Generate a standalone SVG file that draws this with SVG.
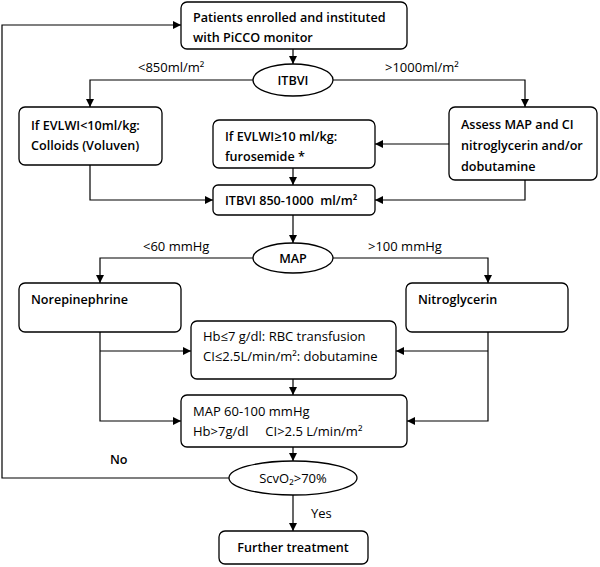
<svg xmlns="http://www.w3.org/2000/svg" width="600" height="567" viewBox="0 0 600 567">
<defs>
<marker id="ah" viewBox="0 0 10 10" refX="10" refY="5" markerWidth="8" markerHeight="8" markerUnits="userSpaceOnUse" orient="auto">
<path d="M0,0 L10,5 L0,10 z" fill="#000"/>
</marker>
<style>
.n{fill:#fff;stroke:#000;stroke-width:1.3}
.t{font-family:"Open Sans","Liberation Sans",sans-serif;font-size:13px;fill:#000}
.b{font-weight:600;font-size:12.6px}
.c{fill:none;stroke:#000;stroke-width:1.2}
.a{marker-end:url(#ah)}
.m{text-anchor:middle}
</style>
</defs>
<rect width="600" height="567" fill="#fff"/>
<g id="connectors">
<path class="c a" d="M293,49 V64"/>
<path class="c a" d="M253,80 H90 V107"/>
<path class="c a" d="M333,80 H525 V107"/>
<path class="c a" d="M449,144 H375"/>
<path class="c a" d="M293,168 V185"/>
<path class="c a" d="M90,165 V200 H213"/>
<path class="c a" d="M525,180 V200 H375"/>
<path class="c a" d="M293,215 V243"/>
<path class="c a" d="M253,258 H100 V283"/>
<path class="c a" d="M333,258 H488 V283"/>
<path class="c a" d="M100,332 V421 H181"/>
<path class="c a" d="M100,351 H191"/>
<path class="c a" d="M488,332 V421 H407"/>
<path class="c a" d="M488,351 H396"/>
<path class="c a" d="M293,379 V395"/>
<path class="c a" d="M293,447 V461"/>
<path class="c a" d="M229,478 H2 V25 H181"/>
<path class="c a" d="M293,495 V531"/>
<text class="t" x="138" y="72">&lt;850ml/m²</text>
<text class="t" x="385" y="72">&gt;1000ml/m²</text>
<text class="t" x="143" y="251">&lt;60 mmHg</text>
<text class="t" x="368" y="251">&gt;100 mmHg</text>
<text class="t b" x="110" y="464">No</text>
<text class="t" x="311" y="518">Yes</text>
</g>
<g id="start">
<rect class="n" x="181" y="2" width="226" height="47" rx="6"/>
<text class="t b" x="193" y="22">Patients enrolled and instituted</text>
<text class="t b" x="193" y="42">with PiCCO monitor</text>
</g>
<g id="itbvi">
<ellipse class="n" cx="293" cy="80" rx="40" ry="16"/>
<text class="t b m" x="293" y="85">ITBVI</text>
</g>
<g id="colloids">
<rect class="n" x="19" y="107" width="143" height="58" rx="6"/>
<text class="t b" x="31" y="130">If EVLWI&lt;10ml/kg:</text>
<text class="t b" x="31" y="150">Colloids (Voluven)</text>
</g>
<g id="furosemide">
<rect class="n" x="213" y="120" width="162" height="48" rx="6"/>
<text class="t b" x="225" y="141">If EVLWI≥10 ml/kg:</text>
<text class="t b" x="225" y="161">furosemide *</text>
</g>
<g id="assess">
<rect class="n" x="449" y="107" width="148" height="73" rx="6"/>
<text class="t b" x="461" y="129">Assess MAP and CI</text>
<text class="t b" x="461" y="150">nitroglycerin and/or</text>
<text class="t b" x="461" y="171">dobutamine</text>
</g>
<g id="itbvi-target">
<rect class="n" x="213" y="185" width="162" height="30" rx="5"/>
<text class="t b" x="225" y="205" xml:space="preserve">ITBVI 850-1000  ml/m²</text>
</g>
<g id="map">
<ellipse class="n" cx="293" cy="258" rx="40" ry="15"/>
<text class="t b m" x="293" y="263">MAP</text>
</g>
<g id="norepinephrine">
<rect class="n" x="19" y="283" width="162" height="49" rx="6"/>
<text class="t b" x="31" y="304">Norepinephrine</text>
</g>
<g id="nitroglycerin">
<rect class="n" x="406" y="283" width="162" height="49" rx="6"/>
<text class="t b" x="418" y="304">Nitroglycerin</text>
</g>
<g id="hb">
<rect class="n" x="191" y="321" width="205" height="58" rx="6"/>
<text class="t" x="203" y="341">Hb≤7 g/dl: RBC transfusion</text>
<text class="t" x="203" y="361">CI≤2.5L/min/m²: dobutamine</text>
</g>
<g id="map-target">
<rect class="n" x="181" y="395" width="226" height="52" rx="6"/>
<text class="t" x="193" y="416">MAP 60-100 mmHg</text>
<text class="t" x="193" y="436" xml:space="preserve">Hb&gt;7g/dl     CI&gt;2.5 L/min/m²</text>
</g>
<g id="scvo2">
<ellipse class="n" cx="293" cy="478" rx="64" ry="17"/>
<text class="t m" x="293" y="483">ScvO₂&gt;70%</text>
</g>
<g id="further">
<rect class="n" x="219" y="531" width="149" height="33" rx="6"/>
<text class="t b m" x="293" y="552">Further treatment</text>
</g>
</svg>
